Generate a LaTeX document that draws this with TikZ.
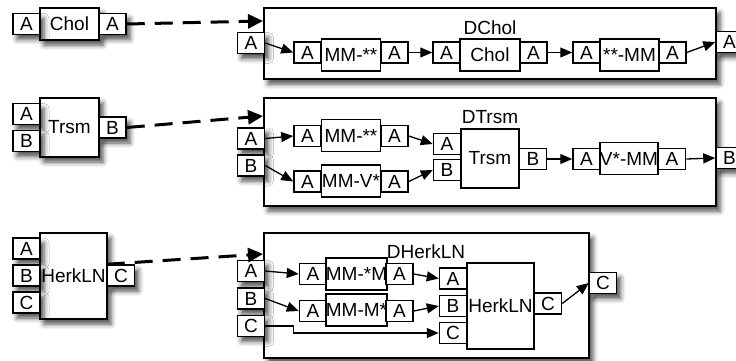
\documentclass[tikz,border=0pt]{standalone}
\usepackage{fontspec}
\setmainfont{Liberation Sans}
\usetikzlibrary{arrows.meta,shadows.blur}

\begin{document}
\begin{tikzpicture}[x=1pt,y=-1pt,font=\fontsize{19}{21}\selectfont,
  box/.style={draw,line width=1.5pt,fill=white,inner sep=0pt},
  port/.style={box,minimum width=27pt,minimum height=21pt},
  unit/.style={box,minimum width=59pt,minimum height=32pt},
  shade/.style={blur shadow={shadow xshift=4pt,shadow yshift=-5pt,shadow blur radius=5pt,shadow opacity=70}},
  link/.style={-{Triangle[length=12pt,width=10pt]},line width=1.3pt},
  lift/.style={-{Triangle[length=15pt,width=14pt]},line width=3pt,dash pattern=on 18pt off 10pt}]
  \useasboundingbox (0,0) rectangle (736,361);

  \node[box,shade,minimum width=59pt,minimum height=32pt] (chol) at (69.5,24) {Chol};
  \node[port,shade] (cIn) at (26.5,24) {A};
  \node[port,shade] (cOut) at (112.5,24) {A};

  \node[box,shade,minimum width=59pt,minimum height=59pt] (trsm) at (69.5,127.5) {Trsm};
  \foreach \n/\y in {A/114,B/141}
    \node[port,shade] (t\n) at (26.5,\y) {\n};
  \node[port,shade] (tOut) at (112.5,127.5) {B};

  \node[box,shade,minimum width=67pt,minimum height=86pt] (herk) at (73.5,276) {HerkLN};
  \foreach \n/\y in {A/248.5,B/275.5,C/302.5}
    \node[port,shade] (h\n) at (26.5,\y) {\n};
  \node[port,shade] (hOut) at (121,275.5) {C};

  \node[box,shade,minimum width=452pt,minimum height=71pt] (dchol) at (490,43.5) {};
  \node (dcholT) at (490,28) {DChol};
  \node[port,shade] (dcA) at (251,43) {A};
  \node[port] (dcP1) at (307.5,52.5) {A};
  \node[unit] (dcU1) at (351,55) {MM-**};
  \node[port] (dcP2) at (394.5,52.5) {A};
  \node[port] (dcP3) at (446.5,52.5) {A};
  \node[unit,minimum width=60pt] (dcU2) at (490,55) {Chol};
  \node[port] (dcP4) at (533.5,52.5) {A};
  \node[port] (dcP5) at (586.5,52.5) {A};
  \node[unit] (dcU3) at (629.5,55) {**-MM};
  \node[port] (dcP6) at (672.5,52.5) {A};
  \node[port,shade] (dcOut) at (729.5,42) {A};
  \coordinate (dcIn) at (263,21);

  \node[box,shade,minimum width=452pt,minimum height=108pt] (dtrsm) at (490,152) {};
  \node (dtrsmT) at (490,117) {DTrsm};
  \foreach \n/\y in {A/138.5,B/165.5}
    \node[port,shade] (dt\n) at (251,\y) {\n};
  \node[port] (dtP1) at (307.5,136) {A};
  \node[unit] (dtU1) at (351,135.5) {MM-**};
  \node[port] (dtP2) at (394.5,136) {A};
  \node[port] (dtP3) at (307.5,181.5) {A};
  \node[unit] (dtU2) at (351,181) {MM-V*};
  \node[port] (dtP4) at (394.5,181.5) {A};
  \node[box,minimum width=58pt,minimum height=59pt] (dtTrsm) at (490,158.5) {Trsm};
  \node[port] (dtTA) at (447,144) {A};
  \node[port] (dtTB) at (447,170) {B};
  \node[port] (dtTOut) at (533,159) {B};
  \node[port] (dtP5) at (586.5,159) {A};
  \node[unit,minimum width=58pt] (dtU3) at (629,158.5) {V*-MM};
  \node[port] (dtP6) at (672,159) {A};
  \node[port,shade] (dtOut) at (729.5,158) {B};
  \coordinate (dtIn) at (263,116);

  \node[box,shade,minimum width=325pt,minimum height=125pt] (dherk) at (426.5,295.5) {};
  \node (dherkT) at (426,252) {DHerkLN};
  \foreach \n/\y in {A/271,B/298.5,C/326}
    \node[port,shade] (dh\n) at (251,\y) {\n};
  \node[port] (dhP1) at (313,274) {A};
  \node[unit] (dhU1) at (356.5,274) {MM-*M};
  \node[port] (dhP2) at (399.5,274) {A};
  \node[port] (dhP3) at (313,311) {A};
  \node[unit] (dhU2) at (356.5,310) {MM-M*};
  \node[port] (dhP4) at (399.5,311) {A};
  \node[box,minimum width=67pt,minimum height=86pt] (dhHerk) at (500.5,306) {HerkLN};
  \foreach \n/\y in {A/278.5,B/306,C/333}
    \node[port] (dhH\n) at (453,\y) {\n};
  \node[port] (dhHOut) at (548,303.5) {C};
  \node[port,shade] (dhOut) at (603,283) {C};
  \coordinate (dhIn) at (263,254);

  \draw[lift] (cOut.east) -- (dcIn);
  \draw[lift] (tOut.east) -- (dtIn);
  \draw[lift] (hOut.north west) -- (dhIn);

  \draw[link] (dcA.east) -- (dcP1.west);
  \draw[link] (dcP2.east) -- (dcP3.west);
  \draw[link] (dcP4.east) -- (dcP5.west);
  \draw[link] (dcP6.east) -- (dcOut.west);

  \draw[link] (dtA.east) -- (dtP1.west);
  \draw[link] (dtB.east) -- (dtP3.west);
  \draw[link] (dtP2.east) -- (dtTA.west);
  \draw[link] (dtP4.east) -- (dtTB.west);
  \draw[link] (dtTOut.east) -- (dtP5.west);
  \draw[link] (dtP6.east) -- (dtOut.west);

  \draw[link] (dhA.east) -- (dhP1.west);
  \draw[link] (dhB.east) -- (dhP3.west);
  \draw[link] (dhC.east) -- ++(28,0) |- (dhHC.west);
  \draw[link] (dhP2.east) -- (dhHA.west);
  \draw[link] (dhP4.east) -- (dhHB.west);
  \draw[link] (dhHOut.east) -- (dhOut.west);
\end{tikzpicture}
\end{document}
